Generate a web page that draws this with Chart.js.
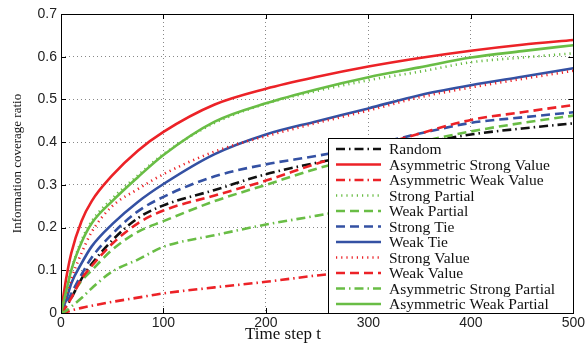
<!DOCTYPE html>
<html lang="en">
<head>
<meta charset="UTF-8">
<title>Information coverage ratio</title>
<script src="https://cdn.jsdelivr.net/npm/chart.js"></script>
<style>
    html, body {
        margin: 0;
        padding: 0;
        background: #fff;
    }
    canvas {
        display: block;
    }
</style>
</head>
<body>
<canvas id="chart" width="587" height="343"></canvas>
<script>
    // time steps the curves were read at
    const steps = [0, 5, 10, 20, 30, 50, 75, 100, 150, 200, 250, 300, 350, 400, 450, 500];

    const random           = [0, 0.015, 0.035, 0.08, 0.115, 0.17, 0.222, 0.252, 0.288, 0.325, 0.352, 0.375, 0.397, 0.418, 0.432, 0.444];
    const asymStrongValue  = [0, 0.08, 0.14, 0.215, 0.262, 0.322, 0.38, 0.424, 0.488, 0.525, 0.553, 0.577, 0.597, 0.614, 0.628, 0.639];
    const asymWeakValue    = [0, 0.002, 0.006, 0.012, 0.017, 0.026, 0.036, 0.046, 0.06, 0.073, 0.088, 0.1, 0.11, 0.12, 0.13, 0.14];
    const strongPartial    = [0, 0.05, 0.1, 0.17, 0.215, 0.268, 0.322, 0.372, 0.445, 0.49, 0.52, 0.545, 0.565, 0.587, 0.598, 0.608];
    const weakPartial      = [0, 0.02, 0.04, 0.075, 0.1, 0.148, 0.19, 0.215, 0.262, 0.3, 0.338, 0.37, 0.4, 0.425, 0.445, 0.462];
    const strongTie        = [0, 0.02, 0.045, 0.09, 0.13, 0.185, 0.238, 0.272, 0.32, 0.348, 0.368, 0.392, 0.42, 0.445, 0.458, 0.47];
    const weakTie          = [0, 0.03, 0.069, 0.116, 0.156, 0.208, 0.26, 0.302, 0.372, 0.418, 0.449, 0.479, 0.51, 0.533, 0.553, 0.573];
    const strongValue      = [0, 0.04, 0.08, 0.14, 0.19, 0.25, 0.29, 0.325, 0.378, 0.414, 0.445, 0.474, 0.505, 0.528, 0.548, 0.567];
    const weakValue        = [0, 0.015, 0.035, 0.08, 0.11, 0.162, 0.21, 0.24, 0.275, 0.31, 0.35, 0.385, 0.42, 0.452, 0.47, 0.487];
    const asymStrongPartial = [0, 0.005, 0.015, 0.035, 0.058, 0.097, 0.125, 0.155, 0.182, 0.207, 0.228, 0.25, 0.27, 0.29, 0.305, 0.32];
    const asymWeakPartial  = [0, 0.05, 0.1, 0.165, 0.21, 0.262, 0.318, 0.37, 0.448, 0.491, 0.524, 0.552, 0.575, 0.598, 0.613, 0.627];

    const yTicks = [0, 0.1, 0.2, 0.3, 0.4, 0.5, 0.6, 0.7];
    const xTicks = [0, 100, 200, 300, 400, 500];

    const RED = '#ec2227', GREEN = '#69bd45', BLUE = '#3451a3', BLACK = '#111111';
    const SOLID = [], DASH = [9, 5], DOT = [1.2, 4], DASHDOT = [9, 4, 1.5, 4];

    const series = [
        ['Random', random, BLACK, DASHDOT],
        ['Asymmetric Strong Value', asymStrongValue, RED, SOLID],
        ['Asymmetric Weak Value', asymWeakValue, RED, DASHDOT],
        ['Strong Partial', strongPartial, GREEN, DOT],
        ['Weak Partial', weakPartial, GREEN, DASH],
        ['Strong Tie', strongTie, BLUE, DASH],
        ['Weak Tie', weakTie, BLUE, SOLID],
        ['Strong Value', strongValue, RED, DOT],
        ['Weak Value', weakValue, RED, DASH],
        ['Asymmetric Strong Partial', asymStrongPartial, GREEN, DASHDOT],
        ['Asymmetric Weak Partial', asymWeakPartial, GREEN, SOLID]
    ];

    const datasets = series.map(([label, vals, color, dash], i) => ({
        label: label,
        data: steps.map((t, k) => ({ x: t, y: vals[k] })),
        borderColor: color,
        borderDash: dash,
        borderWidth: 2.6,
        pointRadius: 0,
        fill: false,
        cubicInterpolationMode: 'monotone',
        order: series.length - i   // later series painted on top, like matlab
    }));

    // axes box, inner ticks, and the boxed legend in the lower right corner
    const boxAndLegend = {
        id: 'boxAndLegend',
        afterDatasetsDraw(chart) {
            const { ctx, chartArea: a, scales } = chart;
            ctx.save();
            ctx.setLineDash([]);
            ctx.strokeStyle = '#000';
            ctx.lineWidth = 1;
            ctx.beginPath();
            xTicks.forEach(v => {
                const px = Math.round(scales.x.getPixelForValue(v)) + 0.5;
                ctx.moveTo(px, a.bottom); ctx.lineTo(px, a.bottom - 5);
                ctx.moveTo(px, a.top); ctx.lineTo(px, a.top + 5);
            });
            yTicks.forEach(v => {
                const py = Math.round(scales.y.getPixelForValue(v)) + 0.5;
                ctx.moveTo(a.left, py); ctx.lineTo(a.left + 5, py);
                ctx.moveTo(a.right, py); ctx.lineTo(a.right - 5, py);
            });
            ctx.stroke();
            ctx.strokeRect(Math.round(a.left) + 0.5, Math.round(a.top) + 0.5,
                Math.round(a.right - a.left), Math.round(a.bottom - a.top));

            // legend
            const w = 245, h = 175;
            const x0 = Math.round(a.right) - w, y0 = Math.round(a.bottom) - h;
            ctx.fillStyle = '#fff';
            ctx.fillRect(x0, y0, w, h);
            ctx.strokeRect(x0 + 0.5, y0 + 0.5, w, h);
            ctx.font = '15.5px "Liberation Serif", "Times New Roman", serif';
            ctx.textBaseline = 'middle';
            chart.data.datasets.forEach((ds, i) => {
                const y = y0 + 11 + i * 15.5;
                ctx.beginPath();
                ctx.setLineDash(ds.borderDash);
                ctx.strokeStyle = ds.borderColor;
                ctx.lineWidth = ds.borderWidth;
                ctx.moveTo(x0 + 8, y);
                ctx.lineTo(x0 + 53, y);
                ctx.stroke();
                ctx.setLineDash([]);
                ctx.fillStyle = '#111';
                ctx.fillText(ds.label, x0 + 61, y + 1);
            });

            // x axis title, matlab puts it a bit left of the axis centre
            ctx.font = '17px "Liberation Serif", "Times New Roman", serif';
            ctx.textAlign = 'center';
            ctx.fillText('Time step t', 283, 335);
            ctx.restore();
        }
    };

    Chart.defaults.font.family = '"Liberation Sans", Arial, sans-serif';
    Chart.defaults.font.size = 14;
    Chart.defaults.color = '#222';

    const ctx = document.getElementById('chart').getContext('2d');
    const chart = new Chart(ctx, {
        type: 'line',
        data: { datasets: datasets },
        plugins: [boxAndLegend],
        options: {
            responsive: false,
            animation: false,
            events: [],
            layout: { padding: { top: 14, right: 13, left: 0, bottom: 0 } },
            plugins: {
                legend: { display: false },
                tooltip: { enabled: false }
            },
            scales: {
                x: {
                    type: 'linear',
                    min: 0,
                    max: 500,
                    afterBuildTicks: s => { s.ticks = xTicks.map(v => ({ value: v })); },
                    afterFit: s => { s.height = 30; },
                    ticks: { padding: 2, maxRotation: 0 },
                    grid: { color: '#888', drawTicks: false },
                    border: { display: false, dash: [1, 3] }
                },
                y: {
                    min: 0,
                    max: 0.7,
                    afterBuildTicks: s => { s.ticks = yTicks.map(v => ({ value: v })); },
                    afterFit: s => { s.width = 61; },
                    ticks: {
                        padding: 4,
                        callback: v => v === 0 ? '0' : v.toFixed(1)
                    },
                    grid: { color: '#888', drawTicks: false },
                    border: { display: false, dash: [1, 3] },
                    title: {
                        display: true,
                        text: 'Information coverage ratio',
                        font: { family: '"Liberation Serif", "Times New Roman", serif', size: 13 },
                        color: '#111',
                        padding: { top: 10, bottom: 0 }
                    }
                }
            }
        }
    });
</script>
</body>
</html>
